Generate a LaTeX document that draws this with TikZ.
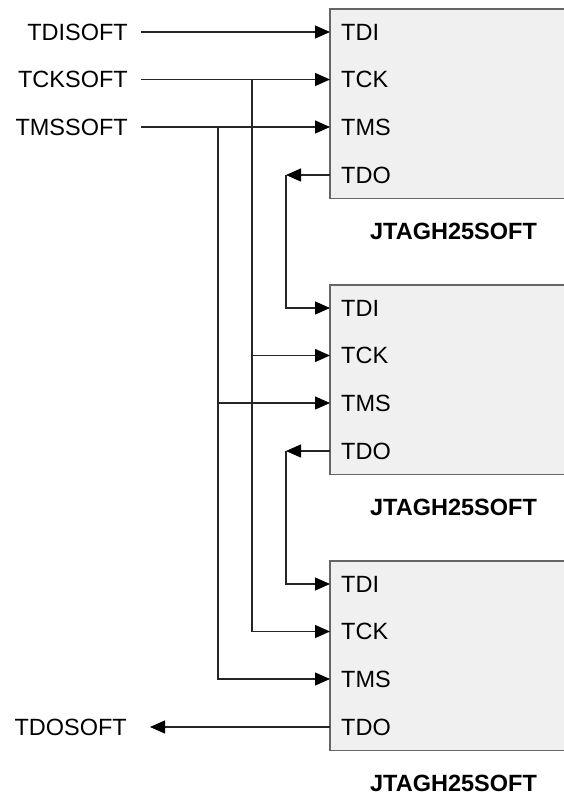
\documentclass[tikz,border=0pt]{standalone}
\usepackage{fontspec}
\setmainfont{Liberation Sans}
\usetikzlibrary{arrows.meta}
\begin{document}
\begin{tikzpicture}[x=1pt,y=-1pt,
  wire/.style={draw=black!85, line width=1.3pt},
  arr/.style={wire, -{Triangle[length=15pt,width=13pt,fill=black,color=black]}},
  boxfill/.style={fill=black!6, draw=none, minimum width=250pt, minimum height=189pt, anchor=north west, inner sep=0pt},
  boxline/.style={draw=black!60, line width=1.5pt},
  sig/.style={font=\fontsize{23.5}{28}\selectfont, inner ysep=0pt, text=black},
  boxname/.style={font=\bfseries\fontsize{23.5}{28}\selectfont, anchor=base, inner sep=0pt}
]
\useasboundingbox (0,0) rectangle (564,795);

% boxes
\foreach \i/\t in {1/9, 2/285, 3/561} {
  \node[boxfill] (b\i) at (330,\t) {};
  \draw[boxline] (b\i.north east) -- (b\i.north west) -- (b\i.south west) -- (b\i.south east);
  \node[sig, anchor=west, inner xsep=11pt] (p\i tdi) at (330,\t+23) {TDI};
  \node[sig, anchor=west, inner xsep=11pt] (p\i tck) at (330,\t+70.5) {TCK};
  \node[sig, anchor=west, inner xsep=11pt] (p\i tms) at (330,\t+118) {TMS};
  \node[sig, anchor=west, inner xsep=11pt] (p\i tdo) at (330,\t+166) {TDO};
  \node[boxname] (n\i) at (453.5,\t+230.5) {JTAGH25SOFT};
}

% external signals
\node[sig, anchor=east, inner xsep=13pt] (lTDI) at (141,32) {TDISOFT};
\node[sig, anchor=east, inner xsep=13pt] (lTCK) at (141,79.5) {TCKSOFT};
\node[sig, anchor=east, inner xsep=13pt] (lTMS) at (141,127) {TMSSOFT};
\node[sig, anchor=east, inner xsep=23pt] (lTDO) at (150,727) {TDOSOFT};

\coordinate (ckx) at (252,0);
\coordinate (msx) at (218,0);
\coordinate (dox) at (286,0);

% TDI / TCK / TMS to first box
\draw[arr] (lTDI.east) -- (p1tdi.west);
\draw[arr] (lTCK.east) -- (p1tck.west);
\draw[arr] (lTMS.east) -- (p1tms.west);

% TCK bus
\draw[arr] (ckx |- p1tck.west) |- (p3tck.west);
\draw[arr] (ckx |- p2tck.west) -- (p2tck.west);

% TMS bus
\draw[arr] (msx |- p1tms.west) |- (p3tms.west);
\draw[arr] (msx |- p2tms.west) -- (p2tms.west);

% TDO chain
\draw[arr] (p1tdo.west) -- (dox |- p1tdo.west);
\draw[arr] (dox |- p1tdo.west) |- (p2tdi.west);
\draw[arr] (p2tdo.west) -- (dox |- p2tdo.west);
\draw[arr] (dox |- p2tdo.west) |- (p3tdi.west);
\draw[arr] (p3tdo.west) -- (lTDO.east);
\end{tikzpicture}
\end{document}
